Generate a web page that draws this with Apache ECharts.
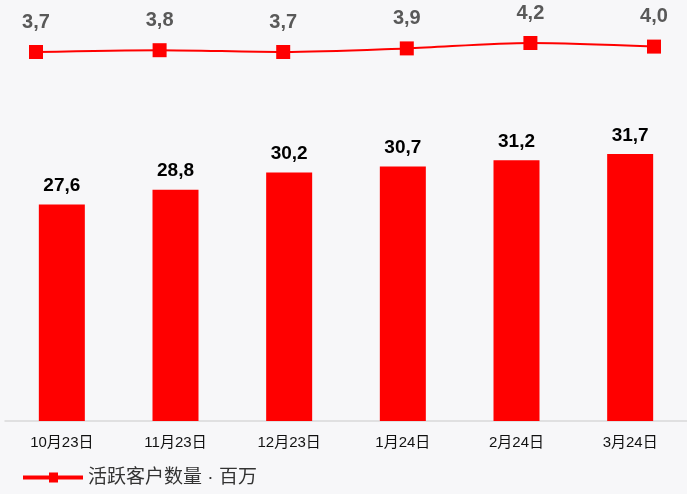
<!DOCTYPE html>
<html>
<head>
<meta charset="utf-8">
<script src="https://cdn.jsdelivr.net/npm/echarts@6/dist/echarts.min.js"></script>
<style>
  html, body { margin: 0; padding: 0; background: #f7f7f9; }
  #chart { width: 687px; height: 494px; }
</style>
</head>
<body>
<div id="chart"></div>
<script>
const meses = ['10月23日', '11月23日', '12月23日', '1月24日', '2月24日', '3月24日'];
const barras = [27.6, 28.8, 30.2, 30.7, 31.2, 31.7];
const linea = [3.7, 3.8, 3.7, 3.9, 4.2, 4.0];
const leyenda = '活跃客户数量 · 百万';

const fmt = (p) => String(p.value).includes('.') ? String(p.value).replace('.', ',') : p.value + ',0';

let chart = echarts.init(document.getElementById('chart'));

const option = {
    backgroundColor: '#f7f7f9',
    textStyle: { fontFamily: 'Liberation Sans, Noto Sans CJK SC, sans-serif' },
    legend: {
        left: 18,
        bottom: 2,
        itemWidth: 60,
        itemHeight: 12,
        itemGap: 8,
        data: [{ name: leyenda, icon: 'path://M0,4 L60,4 L60,8 L0,8 Z M26,1 L35,1 L35,11 L26,11 Z' }],
        textStyle: { fontSize: 19, color: '#333' }
    },
    grid: [
        { left: 5, right: 0, top: 52, bottom: 73 },
        { left: 36, right: 33, top: 28.6, height: 36 }
    ],
    xAxis: [{
        type: 'category',
        gridIndex: 0,
        data: meses,
        axisTick: { show: false },
        axisLine: { lineStyle: { color: '#d9d9d9', width: 1.5 } },
        axisLabel: { color: '#111', fontSize: 15, margin: 14 }
    }, {
        type: 'category',
        gridIndex: 1,
        data: meses,
        boundaryGap: false,
        show: false
    }],
    yAxis: [{
        type: 'value', gridIndex: 0, min: 10, max: 40, show: false
    }, {
        type: 'value', gridIndex: 1, min: 3, max: 5, show: false
    }],
    series: [{
        type: 'bar',
        xAxisIndex: 0,
        yAxisIndex: 0,
        data: barras,
        barWidth: 46,
        itemStyle: { color: '#ff0000' },
        label: {
            show: true,
            position: 'top',
            distance: 9,
            color: '#000',
            fontSize: 19,
            fontWeight: 'bold',
            formatter: fmt
        }
    }, {
        name: leyenda,
        type: 'line',
        xAxisIndex: 1,
        yAxisIndex: 1,
        data: linea,
        smooth: 0.3,
        symbol: 'rect',
        symbolSize: 14,
        lineStyle: { color: '#ff0000', width: 2 },
        itemStyle: { color: '#ff0000' },
        label: {
            show: true,
            position: 'top',
            distance: 13,
            color: '#595959',
            fontSize: 20,
            fontWeight: 'bold',
            formatter: fmt
        }
    }]
};

option && chart.setOption(option);
window.addEventListener('resize', chart.resize);
</script>
</body>
</html>
